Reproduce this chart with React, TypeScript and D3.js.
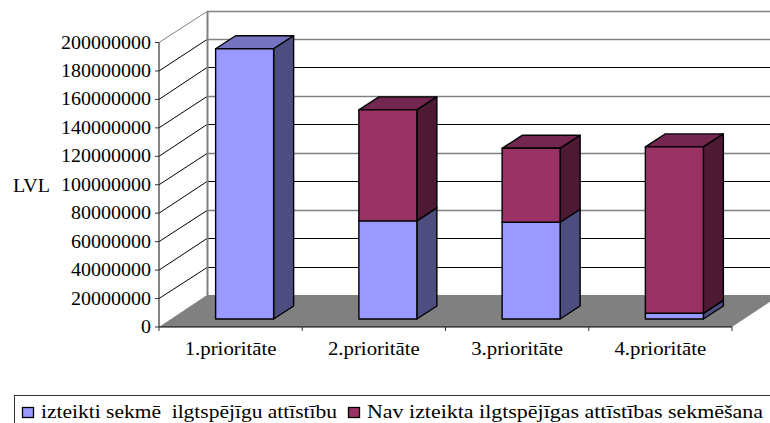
import React from "react";
import * as d3 from "d3";

const categories = ["1.prioritāte", "2.prioritāte", "3.prioritāte", "4.prioritāte"];
const seriesA = [190000000, 69000000, 68000000, 4000000];
const seriesB = [0, 78000000, 52000000, 117000000];
const ticks = d3.range(0, 200000001, 20000000);
const greyGridlines = [200000000, 180000000, 140000000, 100000000, 60000000];
const legendA = "izteikti sekmē  ilgtspējīgu attīstību";
const legendB = "Nav izteikta ilgtspējīgas attīstības sekmēšana";

const F = "'Liberation Serif', serif";
const y = d3.scaleLinear().domain([0, 200000000]).range([327, 42.5]);
const x = d3.scaleBand().domain(categories).range([159, 732]);
const wallDx = 48, wallDy = -32;
const barDx = 20, barDy = -13, shiftX = 14, shiftY = -8, barW = 58;

function Box({ x0, yb, yt, front, top, side }: any) {
  const x1 = x0 + barW;
  const pts = (a: number[][]) => a.map((p) => p.join(",")).join(" ");
  return (
    <g stroke="#000" strokeWidth={1.4} strokeLinejoin="round">
      <polygon points={pts([[x0, yt], [x0 + barDx, yt + barDy], [x1 + barDx, yt + barDy], [x1, yt]])} fill={top} />
      <polygon points={pts([[x1, yt], [x1 + barDx, yt + barDy], [x1 + barDx, yb + barDy], [x1, yb]])} fill={side} />
      <rect x={x0} y={yt} width={barW} height={yb - yt} fill={front} />
    </g>
  );
}

export default function App() {
  const x0 = 159, xr = 732;
  return (
    <svg width={770} height={423} style={{ position: "absolute", left: 0, top: 0, background: "#fff" }}>
      <polygon points={`${x0},327 ${x0 + wallDx},295 ${xr + wallDx},295 ${xr},327`} fill="#808080" />
      {ticks.slice(1).map((t) => {
        const grey = greyGridlines.includes(t);
        const yb = Math.round(y(t) + wallDy) + 0.5;
        return (
          <g key={t}>
            <line x1={x0} y1={y(t)} x2={x0 + wallDx} y2={yb} stroke={t === 200000000 ? "#808080" : "#000"} strokeWidth={1} />
            <line x1={x0 + wallDx} y1={yb} x2={770} y2={yb} stroke={grey ? "#808080" : "#000"} strokeWidth={grey ? 1.4 : 1} />
          </g>
        );
      })}
      <line x1={207.5} y1={12} x2={207.5} y2={295} stroke="#808080" strokeWidth={2} />
      <line x1={x0} y1={42.5} x2={x0} y2={327} stroke="#333" strokeWidth={1.2} />
      <line x1={x0} y1={327} x2={xr} y2={327} stroke="#000" strokeWidth={1.2} />
      {ticks.map((t) => (
        <g key={t}>
          <line x1={x0 - 4} x2={x0} y1={y(t)} y2={y(t)} stroke="#333" />
          <text x={151} y={y(t) + 6} textAnchor="end" fontFamily={F} fontSize={18} fill="#000" textLength={String(t).length * 10} lengthAdjust="spacingAndGlyphs">{t}</text>
        </g>
      ))}
      {[...categories, ""].map((c, i) => {
        const tx = 159 + i * x.step();
        return <line key={i} x1={tx} x2={tx} y1={327} y2={331} stroke="#333" />;
      })}
      <text x={31.5} y={191.5} textAnchor="middle" fontFamily={F} fontSize={18} textLength={37} lengthAdjust="spacingAndGlyphs">LVL</text>
      {categories.map((c, i) => {
        const bx = (x(c) as number) + x.bandwidth() / 2 + shiftX - barW / 2;
        const y0 = y(0) + shiftY;
        const yA = y(seriesA[i]) + shiftY;
        const yB = y(seriesA[i] + seriesB[i]) + shiftY;
        return (
          <g key={c}>
            <Box x0={bx} yb={y0} yt={yA} front="#9999ff" top="#7373bf" side="#4d4d80" />
            {seriesB[i] > 0 && <Box x0={bx} yb={yA} yt={yB} front="#993366" top="#732650" side="#4d1933" />}
            <text x={(x(c) as number) + x.bandwidth() / 2} y={354.5} textAnchor="middle" fontFamily={F} fontSize={18} textLength={92} lengthAdjust="spacingAndGlyphs">{c}</text>
          </g>
        );
      })}
      <rect x={14.5} y={395.5} width={770} height={40} fill="#fff" stroke="#333" />
      <rect x={22.5} y={407.5} width={11} height={10} fill="#9999ff" stroke="#000" strokeWidth={1.3} />
      <text x={41} y={418} fontFamily={F} fontSize={18} style={{ whiteSpace: "pre" }} textLength={296} lengthAdjust="spacingAndGlyphs">{legendA}</text>
      <rect x={348.5} y={407.5} width={11} height={10} fill="#993366" stroke="#000" strokeWidth={1.3} />
      <text x={367} y={418} fontFamily={F} fontSize={18} textLength={396} lengthAdjust="spacingAndGlyphs">{legendB}</text>
    </svg>
  );
}
